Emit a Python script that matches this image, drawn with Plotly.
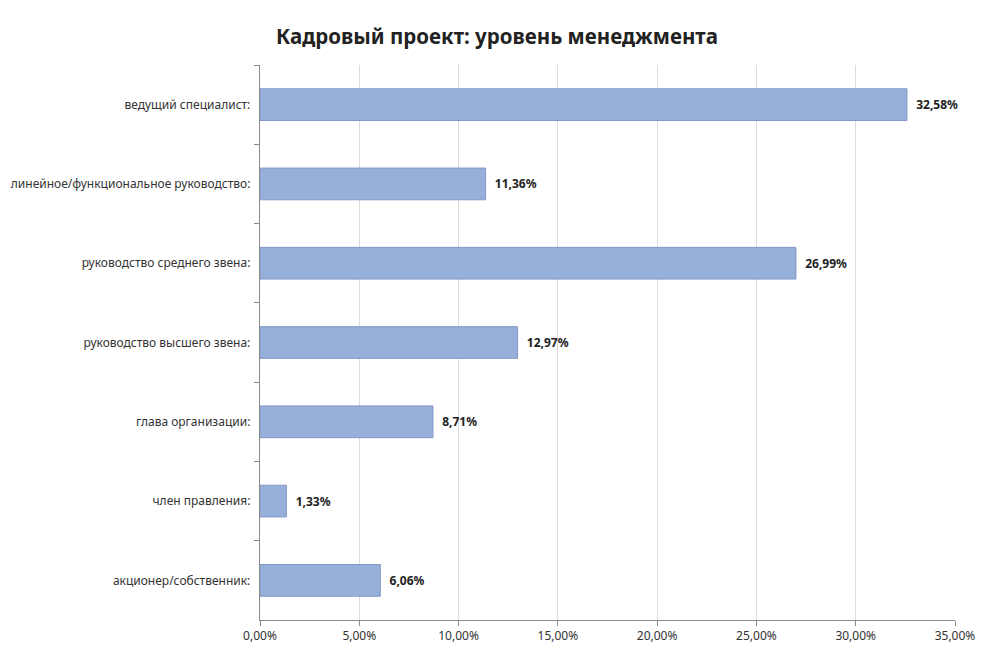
import plotly.graph_objects as go

categories = [
    "ведущий специалист:",
    "линейное/функциональное руководство:",
    "руководство среднего звена:",
    "руководство высшего звена:",
    "глава организации:",
    "член правления:",
    "акционер/собственник:",
]
values = [0.3258, 0.1136, 0.2699, 0.1297, 0.0871, 0.0133, 0.0606]
x_ticks = [0, 0.05, 0.10, 0.15, 0.20, 0.25, 0.30, 0.35]

fig = go.Figure(go.Bar(
    x=values,
    y=categories,
    orientation="h",
    marker=dict(color="#97B0D9", line=dict(color="#8298C6", width=1)),
    texttemplate="\u00a0\u00a0<b>%{x:.2%}</b>",
    textposition="outside",
    textfont=dict(size=12, color="#222222", family="Noto Sans"),
    cliponaxis=False,
    width=0.4,
))

fig.update_layout(
    width=1000, height=662,
    separators=", ",
    paper_bgcolor="white",
    plot_bgcolor="white",
    margin=dict(l=252, r=53, t=57, b=50, autoexpand=False),
    title=dict(
        text="<b>Кадровый проект: уровень менеджмента</b>",
        x=0.489, xanchor="center", y=0.956, yanchor="middle",
        font=dict(size=20.5, family="Noto Sans", color="#222222"),
    ),
    font=dict(family="Noto Sans", size=12, color="#333333"),
    showlegend=False,
)

fig.update_xaxes(
    range=[0, 0.35],
    tickvals=x_ticks,
    tickformat=".2%",
    showgrid=True, gridcolor="#dcdcdc", gridwidth=1,
    showline=True, linecolor="#8a8a8a", linewidth=1,
    ticks="outside", ticklen=5, tickcolor="#8a8a8a",
    zeroline=False,
    automargin=False,
    tickfont=dict(size=12, color="#333333"),
)
fig.update_yaxes(
    categoryorder="array", categoryarray=categories,
    autorange="reversed",
    showline=True, linecolor="#8a8a8a", linewidth=1,
    ticks="outside", ticklen=5, tickcolor="#8a8a8a",
    tickson="boundaries",
    showgrid=False,
    automargin=False,
    tickfont=dict(size=12, color="#333333"),
    ticksuffix="  ",
)

fig.write_html("out.html")
